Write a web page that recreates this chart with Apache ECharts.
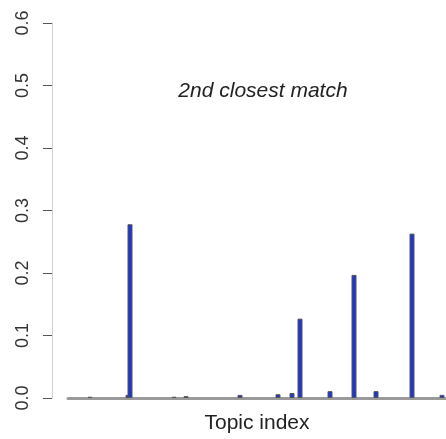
<!DOCTYPE html>
<html>
<head>
<meta charset="utf-8">
<script src="https://cdn.jsdelivr.net/npm/echarts@6/dist/echarts.min.js"></script>
<style>
  html, body { margin: 0; padding: 0; background: #fff; }
  #chart { width: 446px; height: 439px; }
</style>
</head>
<body>
<div id="chart"></div>
<script>
// topic positions and their weights
var topicIndex = [11, 30, 31, 53, 59, 86, 105, 112, 116, 131, 143, 154, 172, 187];
var topicWeight = [0.002, 0.005, 0.278, 0.002, 0.003, 0.005, 0.006, 0.008, 0.127, 0.011, 0.197, 0.011, 0.263, 0.005];
var yTicks = [0, 0.1, 0.2, 0.3, 0.4, 0.5, 0.6];
var titleText = '2nd closest match';
var xName = 'Topic index';

var chart = echarts.init(document.getElementById('chart'));

var points = [];
for (var i = 0; i < topicIndex.length; i++) {
    points.push([topicIndex[i], topicWeight[i]]);
}

var option = {
    animation: false,
    backgroundColor: '#fff',
    title: {
        text: titleText,
        left: 258,
        top: 76,
        textAlign: 'center',
        textStyle: {
            fontFamily: 'Liberation Sans',
            fontStyle: 'italic',
            fontWeight: 'normal',
            fontSize: 21,
            color: '#222'
        }
    },
    grid: { left: 68, right: 0, top: 23, bottom: 41 },
    xAxis: {
        type: 'value',
        min: 0,
        max: 189,
        name: xName,
        nameLocation: 'middle',
        nameGap: 15,
        nameTextStyle: { fontFamily: 'Liberation Sans', fontSize: 21, color: '#222' },
        axisLine: { show: true, onZero: false, lineStyle: { color: '#9a9a9a', width: 3 } },
        axisTick: { show: false },
        axisLabel: { show: false },
        splitLine: { show: false }
    },
    yAxis: {
        type: 'value',
        min: yTicks[0],
        max: yTicks[yTicks.length - 1],
        interval: 0.1,
        // R-style detached axis
        offset: 16,
        axisLine: { show: true, onZero: false, lineStyle: { color: '#d0d0d0', width: 1 } },
        axisTick: { show: true, length: 9, lineStyle: { color: '#555', width: 1 } },
        axisLabel: {
            rotate: 90,
            margin: 20,
            fontFamily: 'Liberation Sans',
            fontSize: 18,
            color: '#333',
            formatter: function (v) { return v.toFixed(1); }
        },
        splitLine: { show: false }
    },
    series: [
        {
            type: 'bar',
            data: points,
            barWidth: 5,
            itemStyle: {
                color: '#1f35d0',
                borderColor: '#555',
                borderWidth: 1
            }
        }
    ]
};

chart.setOption(option);
</script>
</body>
</html>
